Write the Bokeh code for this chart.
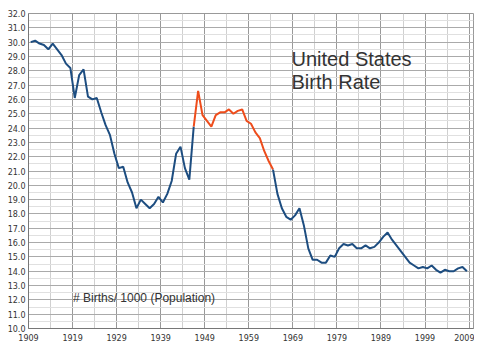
from bokeh.plotting import figure
from bokeh.models import Range1d, FixedTicker, PrintfTickFormatter, Label
from bokeh.embed import file_html
from bokeh.resources import INLINE

years = list(range(1909, 2009))
rates = [30.0, 30.1, 29.9, 29.8, 29.5, 29.9, 29.5, 29.1, 28.5, 28.2,
         26.1, 27.7, 28.1, 26.2, 26.0, 26.1, 25.1, 24.2, 23.5, 22.2,
         21.2, 21.3, 20.2, 19.5, 18.4, 19.0, 18.7, 18.4, 18.7, 19.2,
         18.8, 19.4, 20.3, 22.2, 22.7, 21.2, 20.4, 24.1, 26.6, 24.9,
         24.5, 24.1, 24.9, 25.1, 25.1, 25.3, 25.0, 25.2, 25.3, 24.5,
         24.3, 23.7, 23.3, 22.4, 21.7, 21.1, 19.4, 18.4, 17.8, 17.6,
         17.9, 18.4, 17.2, 15.6, 14.8, 14.8, 14.6, 14.6, 15.1, 15.0,
         15.6, 15.9, 15.8, 15.9, 15.6, 15.6, 15.8, 15.6, 15.7, 16.0,
         16.4, 16.7, 16.2, 15.8, 15.4, 15.0, 14.6, 14.4, 14.2, 14.3,
         14.2, 14.4, 14.1, 13.9, 14.1, 14.0, 14.0, 14.2, 14.3, 14.0]
boom_start, boom_end = 1946, 1964
x_ticks = list(range(1909, 2010, 10))
y_ticks = list(range(10, 33))

xs = [y + 0.5 for y in years]
i0 = years.index(boom_start)
i1 = years.index(boom_end)

p = figure(width=474, height=343, output_backend="svg", toolbar_location=None,
           x_range=Range1d(1909, 2010), y_range=Range1d(10, 32),
           min_border_left=28, min_border_right=1, min_border_top=13, min_border_bottom=15)
p.background_fill_color = "white"
p.border_fill_color = "white"
p.outline_line_color = "#999999"

p.xaxis.ticker = FixedTicker(ticks=x_ticks, minor_ticks=[t + 5 for t in x_ticks[:-1]])
p.yaxis.ticker = FixedTicker(ticks=y_ticks, minor_ticks=[t + 0.5 for t in y_ticks[:-1]])
p.yaxis.formatter = PrintfTickFormatter(format="%.1f")
for ax in (p.xaxis, p.yaxis):
    ax.major_tick_in = 0
    ax.major_tick_out = 0
    ax.minor_tick_in = 0
    ax.minor_tick_out = 0
    ax.axis_line_color = "#777777"
    ax.major_label_text_font = "DejaVu Sans"
    ax.major_label_text_font_size = "8px"
    ax.major_label_text_color = "#333333"
p.yaxis.major_label_standoff = 3
p.xaxis.major_label_standoff = 5

p.xgrid.grid_line_color = "#999999"
p.ygrid.grid_line_color = "#aaaaaa"
p.xgrid.minor_grid_line_color = "#d0d0d0"
p.ygrid.minor_grid_line_color = "#e0e0e0"

blue = "#1d4d80"
orange = "#ee4d1c"
p.line(xs[:i0 + 1], rates[:i0 + 1], line_color=blue, line_width=2)
p.line(xs[i0:i1 + 1], rates[i0:i1 + 1], line_color=orange, line_width=2)
p.line(xs[i1:], rates[i1:], line_color=blue, line_width=2)

for txt, yy in (("United States", 28.85), ("Birth Rate", 27.2)):
    p.add_layout(Label(x=1968.7, y=yy, text=txt, text_font="Liberation Sans",
                       text_font_size="20px", text_color="#333333",
                       text_baseline="alphabetic"))
p.add_layout(Label(x=1919.1, y=12.16, text="# Births/ 1000 (Population)",
                   text_font="Liberation Sans", text_font_size="12px",
                   text_color="#333333", text_baseline="alphabetic"))

open("out.html", "w").write(file_html(p, INLINE))
